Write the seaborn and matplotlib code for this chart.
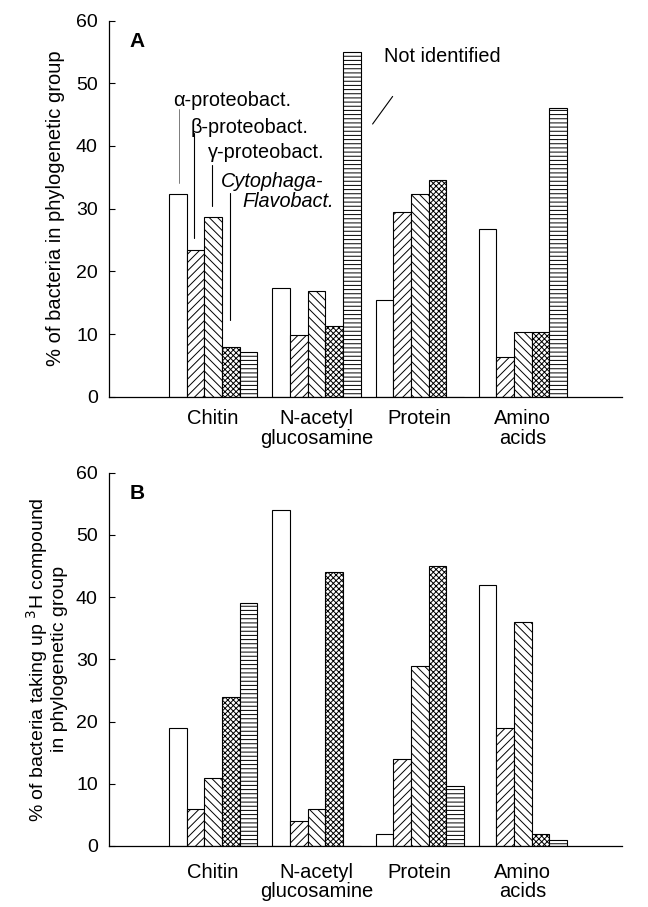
import matplotlib
matplotlib.use("Agg")
import matplotlib.pyplot as plt
import seaborn as sns
import pandas as pd
from matplotlib import font_manager

substrates = ["Chitin", "N-acetyl\nglucosamine", "Protein", "Amino\nacids"]
groups = ["α-proteobact.", "β-proteobact.", "γ-proteobact.", "Cytophaga-Flavobact.", "Not identified"]

# Panel A: % of bacteria in phylogenetic group
a_alpha = [32.3, 17.4, 15.4, 26.7]
a_beta = [23.4, 9.8, 29.5, 6.4]
a_gamma = [28.6, 16.9, 32.3, 10.4]
a_cf = [7.9, 11.3, 34.6, 10.3]
a_ni = [7.2, 55.0, 0.0, 46.0]

# Panel B: % taking up 3H compound in phylogenetic group
b_alpha = [19.0, 54.0, 2.0, 42.0]
b_beta = [6.0, 4.0, 14.0, 19.0]
b_gamma = [11.0, 6.0, 29.0, 36.0]
b_cf = [24.0, 44.0, 45.0, 2.0]
b_ni = [39.0, 0.0, 9.7, 1.0]

yticks = [0, 10, 20, 30, 40, 50, 60]
hatches = ["", "////", "\\\\\\\\", "xxxxxx", "----"]

sns.set_theme(style="white")
names = {f.name for f in font_manager.fontManager.ttflist}
narrow = "Liberation Sans Narrow" if "Liberation Sans Narrow" in names else "Liberation Sans"
plt.rcParams["font.family"] = ["Liberation Sans", "DejaVu Sans"]
plt.rcParams["hatch.linewidth"] = 0.7
plt.rcParams["hatch.color"] = "black"
for k in ["text.color", "axes.labelcolor", "xtick.color", "ytick.color", "axes.edgecolor"]:
    plt.rcParams[k] = "black"


def make_df(series):
    rows = []
    for g, vals in zip(groups, series):
        for s, v in zip(substrates, vals):
            rows.append({"substrate": s, "group": g, "pct": v})
    return pd.DataFrame(rows)


fig = plt.figure(figsize=(6.48, 9.07), dpi=100)
axA = fig.add_axes([0.168, 0.5626, 0.792, 0.4147])
axB = fig.add_axes([0.168, 0.0673, 0.792, 0.4115])


def draw(ax, df, ylabel, letter, xpad, lpad, lsize):
    sns.barplot(data=df, x="substrate", y="pct", hue="group", order=substrates,
                hue_order=groups, palette=["white"] * 5, saturation=1,
                width=0.855, edgecolor="black", linewidth=0.8, errorbar=None,
                legend=False, ax=ax)
    for cont, h in zip(ax.containers, hatches):
        for p in cont:
            p.set_hatch(h)
    ax.set_xlim(-1.01, 3.96)
    ax.set_ylim(0, 60)
    ax.set_yticks(yticks)
    ax.set_yticklabels([str(t) for t in yticks], fontsize=14)
    ax.set_xlabel("")
    ax.set_ylabel(ylabel, family=narrow, fontsize=lsize, labelpad=lpad, linespacing=1.05)
    ax.tick_params(axis="y", direction="in", length=4, width=0.8, pad=8, left=True)
    ax.tick_params(axis="x", length=0, pad=xpad, labelsize=14.5)
    for lab in ax.get_xticklabels():
        lab.set_linespacing(1.05)
    for s in ["top", "right"]:
        ax.spines[s].set_visible(False)
    for s in ["left", "bottom"]:
        ax.spines[s].set_color("black")
        ax.spines[s].set_linewidth(0.9)
    ax.text(-0.74, 56.7, letter, fontsize=15, fontweight="bold", ha="center", va="center")


draw(axA, make_df([a_alpha, a_beta, a_gamma, a_cf, a_ni]),
     "% of bacteria in phylogenetic group", "A", 9, 8, 14.5)
draw(axB, make_df([b_alpha, b_beta, b_gamma, b_cf, b_ni]),
     "% of bacteria taking up $^{3}$H compound\nin phylogenetic group", "B", 12, 6, 14)

# Panel A labels for groups
fs = 14.3
axA.text(-0.39, 47.3, "α-proteobact.", fontsize=fs, ha="left", va="center")
axA.text(-0.223, 43.0, "β-proteobact.", fontsize=fs, ha="left", va="center")
axA.text(-0.049, 39.0, "γ-proteobact.", fontsize=fs, ha="left", va="center")
axA.text(1.068, 34.3, "Cytophaga-", fontsize=fs, ha="right", va="center", style="italic")
axA.text(1.165, 31.1, "Flavobact.", fontsize=fs, ha="right", va="center", style="italic")
axA.text(1.65, 54.2, "Not identified", fontsize=fs, ha="left", va="center")
axA.plot([-0.33, -0.33], [45.9, 34.1], color="0.4", lw=0.6)
axA.plot([-0.184, -0.184], [42.1, 25.3], color="black", lw=0.8)
axA.plot([-0.01, -0.01], [37.0, 30.5], color="black", lw=0.8)
axA.plot([0.165, 0.165], [32.5, 12.2], color="black", lw=0.8)
axA.plot([1.738, 1.544], [47.9, 43.5], color="black", lw=0.8)

fig.savefig("out.png", dpi=100)
